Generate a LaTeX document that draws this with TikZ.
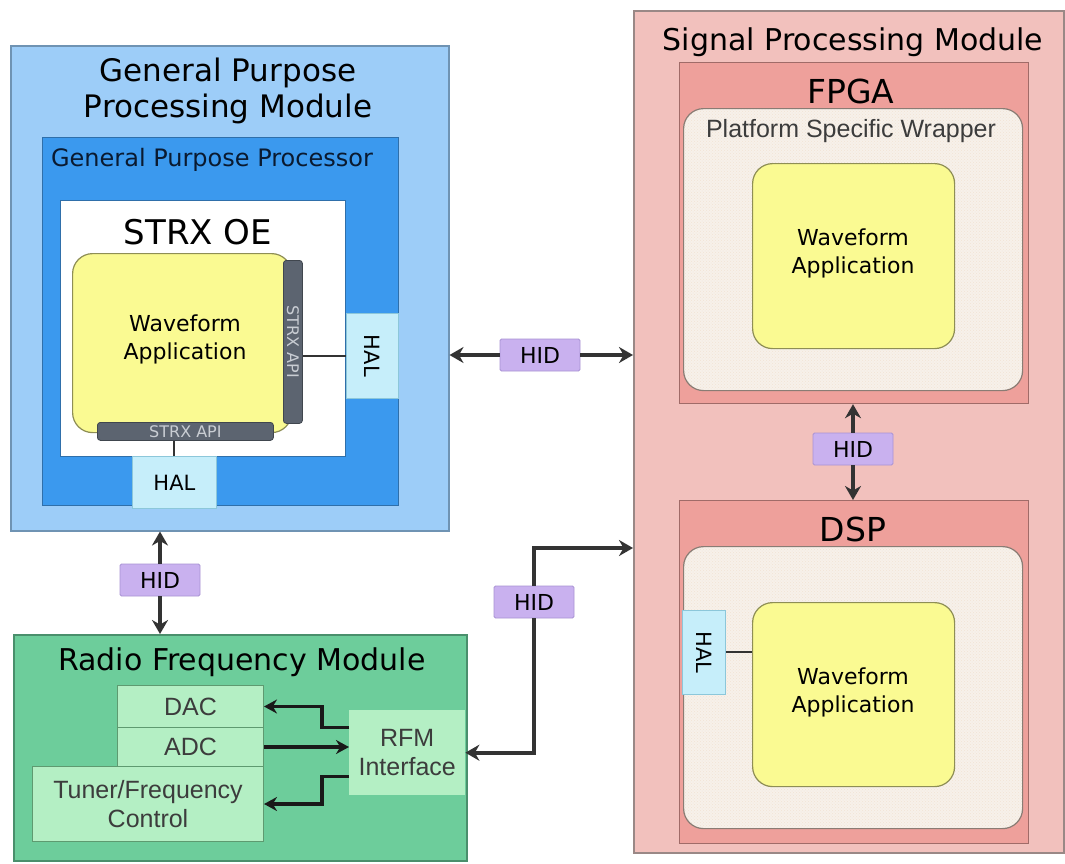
\documentclass[tikz,border=0pt]{standalone}
\usepackage{fontspec}
\setmainfont{DejaVu Sans}
\newfontfamily\arialf{Liberation Sans}
\usetikzlibrary{arrows.meta,patterns,calc}
\definecolor{gppmfill}{HTML}{9DCDF8}
\definecolor{gppmdraw}{HTML}{6F93B3}
\definecolor{gppfill}{HTML}{3B99EE}
\definecolor{gppdraw}{HTML}{2F6FAA}
\definecolor{wafill}{HTML}{FAFA92}
\definecolor{wadraw}{HTML}{8E8E55}
\definecolor{barfill}{HTML}{5C6470}
\definecolor{bartext}{HTML}{C9CDD3}
\definecolor{halfill}{HTML}{C6EEFA}
\definecolor{haldraw}{HTML}{8CC7DA}
\definecolor{hidfill}{HTML}{C9B1EF}
\definecolor{hiddraw}{HTML}{A993D4}
\definecolor{rfmfill}{HTML}{6DCD9B}
\definecolor{rfmdraw}{HTML}{4A8F6C}
\definecolor{lgfill}{HTML}{B4EFC4}
\definecolor{lgdraw}{HTML}{5E9A70}
\definecolor{spmfill}{HTML}{F2C1BD}
\definecolor{spmdraw}{HTML}{9A8886}
\definecolor{chipfill}{HTML}{EEA09B}
\definecolor{chipdraw}{HTML}{A06B68}
\definecolor{wrapfill}{HTML}{F7F1EA}
\definecolor{wrapdraw}{HTML}{8A7C74}
\definecolor{arrowc}{HTML}{333333}
\definecolor{greytext}{HTML}{3C3C3C}
\definecolor{navytext}{HTML}{0A1A30}
\newcommand\fsz[2]{\fontsize{#1}{#2}\selectfont}
\newcommand\bx[6]{\node[#1,anchor=north west,inner sep=0pt,minimum width={#5-#3},minimum height={#6-#4}] (#2) at (#3,#4) {};}
\tikzset{
  gppmbox/.style={draw=gppmdraw,line width=1.5pt,fill=gppmfill},
  gppbox/.style={draw=gppdraw,line width=1.2pt,fill=gppfill},
  whitebox/.style={draw=gppdraw,line width=1pt,fill=white},
  wabox/.style={draw=wadraw,line width=1.2pt,fill=wafill,rounded corners=20pt},
  barbox/.style={draw=barfill!70!black,line width=0.8pt,fill=barfill,rounded corners=3pt},
  halbox/.style={draw=haldraw,line width=0.8pt,fill=halfill},
  hidbox/.style={draw=hiddraw,line width=0.8pt,fill=hidfill,rounded corners=1.5pt,minimum width=80pt,minimum height=32pt,inner sep=0pt,font=\fsz{22}{26}},
  rfmbox/.style={draw=rfmdraw,line width=1.5pt,fill=rfmfill},
  lgbox/.style={draw=lgdraw,line width=1pt,fill=lgfill},
  spmbox/.style={draw=spmdraw,line width=1.5pt,fill=spmfill},
  chipbox/.style={draw=chipdraw,line width=1.2pt,fill=chipfill},
  wrapbox/.style={draw=wrapdraw,line width=1.2pt,rounded corners=20pt,preaction={fill=wrapfill},pattern=crosshatch dots,pattern color=brown!22},
  arrone/.style={draw=arrowc,line width=3.6pt,-{Stealth[length=14pt,width=16pt]}},
  rfarrow/.style={draw=black!90,line width=3.2pt,-{Stealth[length=13pt,width=14pt]}},
  link/.style={draw=arrowc,line width=2pt},
  title/.style={inner sep=0pt,text=black},
  small/.style={inner sep=0pt,text=greytext,font=\arialf\fsz{25}{29},align=center},
  bartxt/.style={inner sep=0pt,text=bartext,font=\fsz{16}{18}},
}
\begin{document}
\begin{tikzpicture}[x=1pt,y=-1pt]
\useasboundingbox[fill=white] (0,0) rectangle (1065,863);

% ---------- General Purpose Processing Module ----------
\bx{gppmbox}{gppm}{10}{45}{448}{530}
\node[title,font=\fsz{31}{36},align=center] (gppmt) at (228,91) {General Purpose\\Processing Module};
\bx{gppbox}{gpp}{42}{137}{398}{505}
\node[title,text=navytext,font=\fsz{24}{28}] (gppt) at (212,160) {General Purpose Processor};
\bx{whitebox}{strx}{60}{200}{345}{456}
\node[title,font=\fsz{34}{40}] (strxt) at (198,232) {STRX OE};
\bx{wabox}{wa1}{72}{253}{291}{432}
\node[title,font=\fsz{22}{28},align=center] (wa1t) at (185,339) {Waveform\\Application};
\bx{barbox}{vbar}{283}{260}{302}{423}
\node[bartxt,rotate=-90] (vbart) at (vbar.center) {STRX API};
\bx{barbox}{hbar}{97}{422}{273}{440}
\node[bartxt] (hbart) at (hbar.center) {STRX API};
\bx{halbox}{hal1}{346}{313}{398}{398}
\node[inner sep=0pt,font=\fsz{21}{25},rotate=-90] (hal1t) at (hal1.center) {HAL};
\bx{halbox}{hal2}{132}{456}{216}{508}
\node[inner sep=0pt,font=\fsz{21}{25}] (hal2t) at (hal2.center) {HAL};
\draw[link] (vbar.east |- hal1.west) -- (hal1.west);
\draw[link] (hal2.north -| 174,0) -- (hbar.south -| 174,0);

% ---------- Radio Frequency Module ----------
\bx{rfmbox}{rfm}{13}{634}{466}{860}
\node[title,font=\fsz{30}{35}] (rfmt) at (242,662) {Radio Frequency Module};
\bx{lgbox}{dac}{117}{685}{263}{727}
\node[small] (dact) at (dac.center) {DAC};
\bx{lgbox}{adc}{117}{727}{263}{766}
\node[small] (adct) at (adc.center) {ADC};
\bx{lgbox}{tuner}{32}{766}{263}{841}
\node[small] (tunert) at (tuner.center) {Tuner/Frequency\\Control};
\node[fill=lgfill,inner sep=0pt,anchor=north west,minimum width=116pt,minimum height=85pt] (rfmi) at (349,710) {};
\node[small] (rfmit) at (rfmi.center) {RFM\\Interface};

\draw[rfarrow] ([yshift=25.5pt]rfmi.west) -- ++(-27,0) |- (dac.east);
\draw[rfarrow] (adc.east) -- (adc.east -| rfmi.west);
\draw[rfarrow] ([yshift=-23.5pt]rfmi.west) -- ++(-27,0) |- (tuner.east);

% ---------- Signal Processing Module ----------
\bx{spmbox}{spm}{633}{10}{1063}{852}
\node[title,font=\fsz{30}{35}] (spmt) at (853,42) {Signal Processing Module};
\bx{chipbox}{fpga}{679}{62}{1028}{403}
\node[title,font=\fsz{33}{38}] (fpgat) at (851,91) {FPGA};
\bx{wrapbox}{wrap1}{683}{108}{1022}{390}
\node[inner sep=0pt,text=greytext,font=\arialf\fsz{25}{29}] (wrap1t) at (851,131) {Platform Specific Wrapper};
\bx{wabox}{wa2}{752}{163}{954}{348}
\node[title,font=\fsz{22}{28},align=center] (wa2t) at (853,253) {Waveform\\Application};

\bx{chipbox}{dsp}{679}{500}{1028}{843}
\node[title,font=\fsz{33}{38}] (dspt) at (853,529) {DSP};
\bx{wrapbox}{wrap2}{683}{546}{1022}{828}
\bx{wabox}{wa3}{752}{602}{954}{786}
\node[title,font=\fsz{22}{28},align=center] (wa3t) at (853,692) {Waveform\\Application};
\bx{halbox}{hal3}{682}{610}{725}{694}
\node[inner sep=0pt,font=\fsz{21}{25},rotate=-90] (hal3t) at (hal3.center) {HAL};
\draw[link] (hal3.east) -- (hal3.east -| wa3.west);

% ---------- HID links ----------
\node[hidbox] (hid1) at (540,355) {HID};
\draw[arrone] (hid1.west) -- (hid1.west -| gppm.east);
\draw[arrone] (hid1.east) -- (hid1.east -| spm.west);

\node[hidbox] (hid2) at (160,580) {HID};
\draw[arrone] (hid2.north) -- (hid2.north |- gppm.south);
\draw[arrone] (hid2.south) -- (hid2.south |- rfm.north);

\node[hidbox] (hid4) at (853,449) {HID};
\draw[arrone] (hid4.north) -- (hid4.north |- fpga.south);
\draw[arrone] (hid4.south) -- (hid4.south |- dsp.north);

\node[hidbox] (hid3) at (534,602) {HID};
\coordinate (spmin) at (spm.west |- 0,548);
\draw[arrone] (hid3.north) |- (spmin);
\draw[arrone] (hid3.south) |- (rfmi.east);
\end{tikzpicture}
\end{document}
